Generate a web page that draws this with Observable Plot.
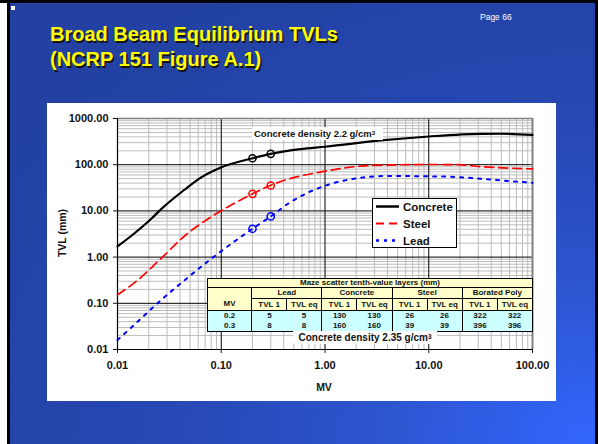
<!DOCTYPE html>
<html><head><meta charset="utf-8">
<script src="https://cdn.jsdelivr.net/npm/d3@7"></script>
<script src="https://cdn.jsdelivr.net/npm/@observablehq/plot@0.6"></script>
<style>
html,body{margin:0;padding:0;}
body{width:598px;height:444px;position:relative;overflow:hidden;background:#000;font-family:"Liberation Sans",Arial,sans-serif;}
#bg{position:absolute;left:10px;top:3px;width:585px;height:441px;
 background:radial-gradient(ellipse 120% 120% at 100% 100%, #3366ff 0%, #2d56d2 28%, #2747b2 62%, #2241a3 100%);}
#lstrip{position:absolute;left:0;top:3px;width:7px;height:441px;background:#fff;}
#sq{position:absolute;left:11px;top:6px;width:4px;height:4px;background:#fff;}
#panel{position:absolute;left:47px;top:103px;width:509px;height:298px;background:#fff;}
.title{position:absolute;left:50px;top:22px;color:#ffff00;font-weight:bold;font-size:20px;line-height:25px;text-shadow:1.5px 1.5px 0 #151515;white-space:nowrap;}
#page{position:absolute;left:480px;top:12px;color:#fff;font-size:8.5px;}
#chart{position:absolute;left:0;top:0;}
#chart svg text{font-weight:bold;font-size:11px;}
.axlab{position:absolute;font-weight:bold;font-size:10.5px;color:#111;white-space:nowrap;transform:translate(-50%,-50%);}
#ylab{transform:translate(-50%,-50%) rotate(-90deg);}
#dens1{position:absolute;left:252px;top:127px;width:131px;height:13px;background:#fff;font-size:9.5px;font-weight:bold;line-height:13px;padding-left:2px;box-sizing:border-box;white-space:nowrap;color:#111;}
#legend{position:absolute;left:372px;top:198px;width:85px;height:50px;background:#fff;border:1px solid #000;box-sizing:border-box;}
#tbl{position:absolute;left:207px;top:278px;}
#tbl table{border-collapse:collapse;table-layout:fixed;width:326px;font-size:8px;font-weight:bold;text-align:center;color:#111;}
#tbl td{padding:0;border:1.5px solid #000;line-height:8px;overflow:hidden;white-space:nowrap;}
#tbl .y{background:#ffffcc;}
#tbl .c{background:#ccffff;}
#dens2{position:absolute;left:293px;top:331px;width:144px;height:13px;background:#fff;font-size:10px;font-weight:bold;line-height:13px;text-align:center;white-space:nowrap;color:#111;}
sup{font-size:65%;vertical-align:top;position:relative;top:-1px;}
</style></head>
<body>
<div id="bg"></div><div id="lstrip"></div><div id="sq"></div>
<div id="panel"></div>
<div class="title">Broad Beam Equilibrium TVLs<br>(NCRP 151 Figure A.1)</div>
<div id="page">Page 66</div>
<div id="chart"></div>
<div class="axlab" id="ylab" style="left:62px;top:233px;">TVL (mm)</div>
<div class="axlab" style="left:324px;top:387px;">MV</div>
<div id="dens1">Concrete density 2.2 g/cm<sup>3</sup></div>
<div id="legend"></div>
<div id="tbl"></div>
<div id="dens2">Concrete density 2.35 g/cm<sup>3</sup></div>
<script>
// ---- data ----
const mvConcrete  = [0.01, 0.0144, 0.0208, 0.027, 0.0436, 0.063, 0.098, 0.2, 0.3, 0.58, 1.0, 3.7, 10, 31.6, 50, 100];
const tvlConcrete = [1.7, 3.2, 6.5, 11.5, 28, 52, 86, 138, 172, 218, 245, 340, 408, 466, 468, 443];
const mvSteel  = [0.01, 0.0155, 0.025, 0.047, 0.079, 0.098, 0.2, 0.3, 1.0, 2.74, 10, 19, 31.6, 100];
const tvlSteel = [0.153, 0.31, 0.84, 3.2, 7.3, 9.8, 23.4, 36, 72.5, 96, 101, 100, 91, 81];
const mvLead  = [0.01, 0.016, 0.026, 0.042, 0.068, 0.098, 0.2, 0.3, 0.465, 1.0, 1.9, 4, 10, 19, 31.6, 100];
const tvlLead = [0.016, 0.042, 0.115, 0.286, 0.69, 1.3, 4.1, 7.6, 15.5, 35, 49.6, 57, 56, 54, 49.5, 40.5];
const markerMV = [0.2, 0.3];
const markerConcrete = [138, 172];
const markerSteel = [23.4, 35.5];
const markerLead = [4.1, 7.6];
const xTicks = [0.01, 0.1, 1, 10, 100];
const yTicks = [0.01, 0.1, 1, 10, 100, 1000];
const seriesNames = ["Concrete", "Steel", "Lead"];
// table
const tableTitle = "Maze scatter tenth-value layers (mm)";
const tableGroups = ["Lead", "Concrete", "Steel", "Borated Poly"];
const tableSub = ["TVL 1", "TVL eq"];
const tableMV = ["0.2", "0.3"];
const leadTVL1 = [5, 8], leadTVLeq = [5, 8];
const concTVL1 = [130, 160], concTVLeq = [130, 160];
const steelTVL1 = [26, 39], steelTVLeq = [26, 39];
const polyTVL1 = [322, 396], polyTVLeq = [322, 396];

// ---- styles ----
const styles = {
  Concrete: {stroke: "#000", strokeWidth: 2.2, dash: null},
  Steel: {stroke: "#ff0000", strokeWidth: 1.7, dash: "9,5"},
  Lead: {stroke: "#0000ff", strokeWidth: 2, dash: "3,6"}
};

const zip = (xs, ys) => xs.map((x, i) => ({x, y: ys[i]}));
const concrete = zip(mvConcrete, tvlConcrete);
const steel = zip(mvSteel, tvlSteel);
const lead = zip(mvLead, tvlLead);

const minor = decs => decs.flatMap(d => [2,3,4,5,6,7,8,9].map(k => +(d * k).toPrecision(3)));
const xMinor = minor([0.01, 0.1, 1, 10]);
const yMinor = minor([0.01, 0.1, 1, 10, 100]);
const xMajor = [0.1, 1, 10];
const yMajor = [0.1, 1, 10, 100];

const lineMark = (data, name) => Plot.line(data, {
  x: "x", y: "y", curve: "monotone-x",
  stroke: styles[name].stroke, strokeWidth: styles[name].strokeWidth,
  strokeDasharray: styles[name].dash || undefined
});
const dotMark = (ys, name) => Plot.dot(zip(markerMV, ys), {
  x: "x", y: "y", r: 3.6, stroke: styles[name].stroke, strokeWidth: 1.5, fill: "none"
});

const chart = Plot.plot({
  width: 598, height: 444,
  marginLeft: 117, marginRight: 66, marginTop: 118, marginBottom: 95,
  style: {background: "transparent", fontFamily: "'Liberation Sans', Arial, sans-serif", fontSize: "11px", fontWeight: "bold", color: "#111"},
  x: {type: "log", domain: [0.01, 100], ticks: xTicks, tickFormat: d => d.toFixed(2), tickSize: 4, tickPadding: 8, label: null},
  y: {type: "log", domain: [0.01, 1000], ticks: yTicks, tickFormat: d => d.toFixed(2), tickSize: 4, tickPadding: 5, label: null},
  marks: [
    Plot.ruleX(xMinor, {stroke: "#bcbcbc", strokeWidth: 1}),
    Plot.ruleY(yMinor, {stroke: "#bcbcbc", strokeWidth: 1}),
    Plot.ruleX(xMajor, {stroke: "#000", strokeWidth: 1}),
    Plot.ruleY(yMajor, {stroke: "#000", strokeWidth: 1}),
    Plot.ruleX([100], {stroke: "#808080", strokeWidth: 2}),
    Plot.ruleY([1000], {stroke: "#808080", strokeWidth: 1.5}),
    Plot.ruleX([0.01], {stroke: "#000", strokeWidth: 1.2}),
    Plot.ruleY([0.01], {stroke: "#000", strokeWidth: 1.2}),
    lineMark(concrete, "Concrete"),
    lineMark(steel, "Steel"),
    lineMark(lead, "Lead"),
    dotMark(markerConcrete, "Concrete"),
    dotMark(markerSteel, "Steel"),
    dotMark(markerLead, "Lead")
  ]
});
document.getElementById("chart").appendChild(chart);

// ---- legend ----
const lg = d3.select("#legend").append("svg").attr("width", 85).attr("height", 50);
seriesNames.forEach((name, i) => {
  const yy = 7.5 + i * 17;
  lg.append("line").attr("x1", 3).attr("x2", 26).attr("y1", yy).attr("y2", yy)
    .attr("stroke", styles[name].stroke).attr("stroke-width", styles[name].strokeWidth + 0.3)
    .attr("stroke-dasharray", name === "Steel" ? "8,5" : name === "Lead" ? "3,5" : null);
  lg.append("text").attr("x", 30).attr("y", yy + 4).text(name)
    .attr("font-family", "'Liberation Sans', Arial, sans-serif").attr("font-weight", "bold")
    .attr("font-size", "11.5px").attr("fill", "#111");
});

// ---- table ----
const dataCols = [[leadTVL1, leadTVLeq], [concTVL1, concTVLeq], [steelTVL1, steelTVLeq], [polyTVL1, polyTVLeq]];
let h = '<table><colgroup><col style="width:44px">' + '<col style="width:35px">'.repeat(8) + '</colgroup>';
h += `<tr style="height:9px"><td class="y" colspan="9">${tableTitle}</td></tr>`;
h += `<tr style="height:11px"><td class="y" rowspan="2" style="vertical-align:bottom;padding-bottom:2px">MV</td>` +
     tableGroups.map(g => `<td class="y" colspan="2">${g}</td>`).join("") + '</tr>';
h += '<tr style="height:12px">' + tableGroups.map(() => tableSub.map(s => `<td class="y">${s}</td>`).join("")).join("") + '</tr>';
tableMV.forEach((mv, r) => {
  const vb = r === 0 ? "border-bottom:none;" : "border-top:none;";
  h += `<tr style="height:10.5px"><td class="c" style="${vb}">${mv}</td>` +
    dataCols.map(([a, b]) =>
      `<td class="c" style="${vb}border-right:none">${a[r]}</td><td class="c" style="${vb}border-left:none">${b[r]}</td>`).join("") + '</tr>';
});
h += '</table>';
document.getElementById("tbl").innerHTML = h;
</script>
</body></html>
